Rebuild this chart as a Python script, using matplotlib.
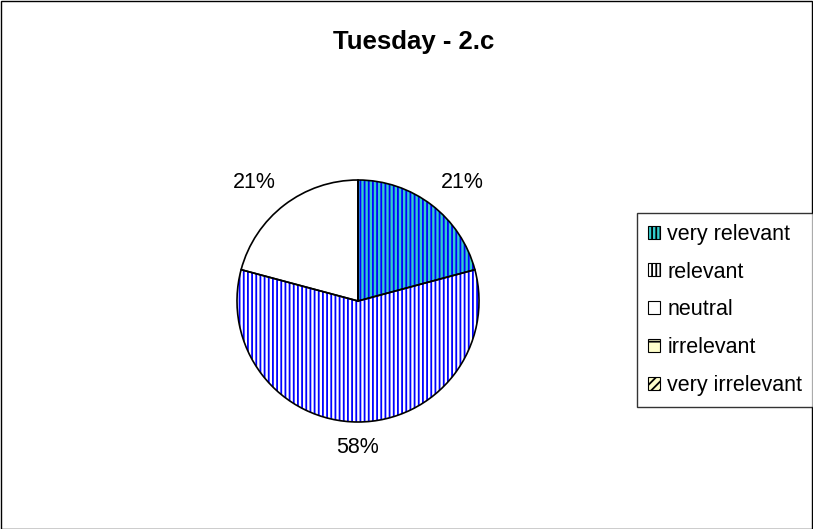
import matplotlib
matplotlib.use("Agg")
import numpy as np
import matplotlib.pyplot as plt
from matplotlib.patches import Rectangle, Patch

plt.rcParams['font.family'] = ['Liberation Sans', 'DejaVu Sans']
plt.rcParams['hatch.linewidth'] = 1.3

title = "Tuesday - 2.c"
categories = ["very relevant", "relevant", "neutral", "irrelevant", "very irrelevant"]
values = [5, 14, 5, 0, 0]
fills = ["#33CCCC", "#FFFFFF", "#FFFFFF", "#FFFFCC", "#FFFFCC"]
hatch_colors = ["#0000FF", "#0000FF", "#000000", "#333333", "#333333"]
hatches = ["||||", "||||", "", "-", "////"]

W, H = 813, 529
fig = plt.figure(figsize=(W / 100, H / 100), dpi=100)
fig.patch.set_facecolor("white")
fig.add_artist(Rectangle((0.5 / W, 0.5 / H), 1 - 1.5 / W, 1 - 1.5 / H, transform=fig.transFigure,
                         fill=False, edgecolor="black", linewidth=1.0))

cx, cy, r = 358, 301, 121
ax = fig.add_axes([(cx - r) / W, (H - cy - r) / H, 2 * r / W, 2 * r / H])

wedges, _ = ax.pie(values, colors=fills, startangle=90, counterclock=False,
                   wedgeprops=dict(linewidth=0))
for w, hc, h in zip(wedges, hatch_colors, hatches):
    w.set_edgecolor(hc)
    w.set_linewidth(0)
    w.set_hatch(h)

ax.pie(values, colors=["none"] * len(values), startangle=90, counterclock=False,
       wedgeprops=dict(linewidth=1.2, edgecolor="black", fill=False))
ax.set_xlim(-1, 1)
ax.set_ylim(-1, 1)
ax.set_aspect("equal")
ax.axis("off")

total = sum(values)
d = 1.12
for w, v in zip(wedges, values):
    if v <= 0:
        continue
    ang = np.deg2rad((w.theta1 + w.theta2) / 2)
    c, s = np.cos(ang), np.sin(ang)
    ha = "left" if c > 0.1 else ("right" if c < -0.1 else "center")
    va = "bottom" if s > 0.1 else ("top" if s < -0.1 else "center")
    ax.text(d * c, d * s, f"{100 * v / total:.0f}%", ha=ha, va=va, fontsize=15.5,
            clip_on=False)

fig.text(414 / W, 1 - 42 / H, title, ha="center", va="center", fontsize=18.5, fontweight="bold")

handles = []
for f, hc, h in zip(fills, hatch_colors, hatches):
    handles.append(Patch(facecolor=f, edgecolor=hc, hatch=h, linewidth=0))

leg = fig.legend(handles, categories, loc="upper left", bbox_to_anchor=(637 / W, 1 - 213 / H),
                 fontsize=15.5, frameon=True, fancybox=False, shadow=False, edgecolor="black",
                 handlelength=0.55, handleheight=0.55, handletextpad=0.35, labelspacing=0.78,
                 borderpad=0.5, borderaxespad=0)
leg.get_frame().set_linewidth(1.0)
for p in leg.get_patches():
    p.set_linewidth(0.8)
    p.set_edgecolor("black")

fig.savefig("out.png", dpi=100, facecolor="white")
